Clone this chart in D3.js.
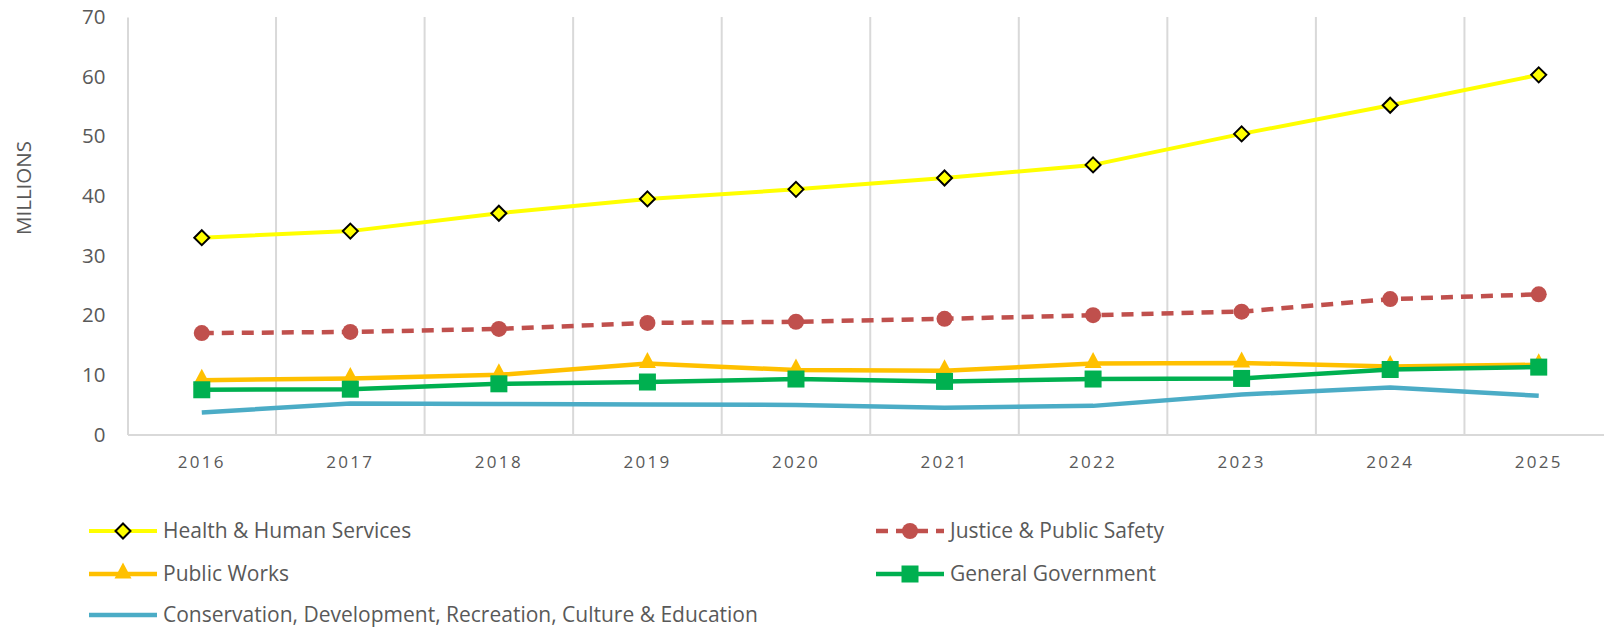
<!DOCTYPE html>
<html>
<head>
<meta charset="utf-8">
<script src="https://cdn.jsdelivr.net/npm/d3@7"></script>
<style>
  html, body { margin: 0; padding: 0; background: #fff; }
  svg { display: block; }
  text { font-family: "Open Sans", "Liberation Sans", sans-serif; fill: #595959; }
</style>
</head>
<body>
<svg id="chart" width="1604" height="629"></svg>
<script>
// Budget by function, millions
const years = ["2016","2017","2018","2019","2020","2021","2022","2023","2024","2025"];
const yTicks = [0, 10, 20, 30, 40, 50, 60, 70];

const healthHumanServices = [33.0, 34.1, 37.1, 39.5, 41.1, 43.0, 45.2, 50.4, 55.2, 60.3];
const justicePublicSafety = [17.0, 17.2, 17.7, 18.7, 18.9, 19.4, 20.0, 20.6, 22.7, 23.5];
const publicWorks         = [9.1, 9.4, 10.0, 11.9, 10.8, 10.7, 11.9, 12.0, 11.4, 11.7];
const generalGovernment   = [7.5, 7.6, 8.5, 8.8, 9.3, 8.9, 9.3, 9.4, 10.9, 11.3];
const conservationEtc     = [3.7, 5.2, 5.1, 5.05, 4.95, 4.5, 4.8, 6.7, 7.9, 6.5];

const seriesNames = [
  "Health & Human Services",
  "Justice & Public Safety",
  "Public Works",
  "General Government",
  "Conservation, Development, Recreation, Culture & Education"
];

const series = [
  { name: seriesNames[0], values: healthHumanServices, color: "#FFFF00", width: 4, dash: null, marker: "diamond" },
  { name: seriesNames[1], values: justicePublicSafety, color: "#C0504D", width: 4.5, dash: "12,8", marker: "circle" },
  { name: seriesNames[2], values: publicWorks, color: "#FFC000", width: 4.5, dash: null, marker: "triangle" },
  { name: seriesNames[3], values: generalGovernment, color: "#00B050", width: 4.5, dash: null, marker: "square" },
  { name: seriesNames[4], values: conservationEtc, color: "#4BACC6", width: 4.5, dash: null, marker: null }
];

const svg = d3.select("#chart");
const plotLeft = 127.5, plotTop = 17, plotBottom = 434.5, plotRight = 1613;

const x = d3.scaleBand().domain(years).range([plotLeft, plotRight]).padding(0);
const y = d3.scaleLinear().domain([0, 70]).range([plotBottom, plotTop]);
const cx = d => x(d) + x.bandwidth() / 2;

// vertical gridlines at category boundaries
svg.append("g").selectAll("line")
  .data(years.slice(1))
  .join("line")
  .attr("x1", d => x(d)).attr("x2", d => x(d))
  .attr("y1", plotTop).attr("y2", plotBottom)
  .attr("stroke", "#D9D9D9").attr("stroke-width", 2);

// y axis
const yAxis = svg.append("g")
  .attr("transform", `translate(${plotLeft},0)`)
  .call(d3.axisLeft(y).tickValues(yTicks).tickSize(0).tickPadding(22));
yAxis.select(".domain").attr("stroke", "#D9D9D9").attr("stroke-width", 2);
yAxis.selectAll("text").style("font-size", "20.5px").attr("fill", "#595959");

// x axis
const xAxis = svg.append("g")
  .attr("transform", `translate(0,${plotBottom})`)
  .call(d3.axisBottom(x).tickSize(0).tickPadding(21));
xAxis.select(".domain").attr("stroke", "#D9D9D9").attr("stroke-width", 2);
xAxis.selectAll("text").style("font-size", "17px").style("letter-spacing", "2.3px").attr("fill", "#595959");

// y title
svg.append("text")
  .attr("transform", "translate(31,188) rotate(-90)")
  .attr("text-anchor", "middle")
  .style("font-size", "20.5px")
  .text("MILLIONS");

const line = d3.line().x((v, i) => cx(years[i])).y(v => y(v));

function drawMarker(g, type, color, px, py) {
  if (type === "diamond") {
    const s = 7.5;
    g.append("path")
      .attr("d", `M${px},${py - s}L${px + s},${py}L${px},${py + s}L${px - s},${py}Z`)
      .attr("fill", "#FFFF00").attr("stroke", "#000").attr("stroke-width", 2);
  } else if (type === "circle") {
    g.append("circle").attr("cx", px).attr("cy", py).attr("r", 8).attr("fill", color);
  } else if (type === "triangle") {
    const s = 8.5;
    g.append("path")
      .attr("d", `M${px},${py - s - 3}L${px + s},${py + s - 4}L${px - s},${py + s - 4}Z`)
      .attr("fill", color);
  } else if (type === "square") {
    const s = 8.5;
    g.append("rect").attr("x", px - s).attr("y", py - s).attr("width", 2 * s).attr("height", 2 * s).attr("fill", color);
  }
}

series.forEach(s => {
  const g = svg.append("g");
  g.append("path")
    .attr("d", line(s.values))
    .attr("fill", "none")
    .attr("stroke", s.color)
    .attr("stroke-width", s.width)
    .attr("stroke-dasharray", s.dash)
    .attr("stroke-linejoin", "round");
  if (s.marker) {
    s.values.forEach((v, i) => drawMarker(g, s.marker, s.color, cx(years[i]), y(v)));
  }
});

// legend
const legendPos = [
  { lx: 89, ly: 531 }, { lx: 876, ly: 531 },
  { lx: 89, ly: 574 }, { lx: 876, ly: 574 },
  { lx: 89, ly: 615 }
];
series.forEach((s, i) => {
  const p = legendPos[i];
  const g = svg.append("g");
  const len = 68;
  g.append("line")
    .attr("x1", p.lx).attr("x2", p.lx + len)
    .attr("y1", p.ly).attr("y2", p.ly)
    .attr("stroke", s.color).attr("stroke-width", s.width)
    .attr("stroke-dasharray", s.dash);
  if (s.marker) drawMarker(g, s.marker, s.color, p.lx + len / 2, p.ly);
  g.append("text")
    .attr("x", p.lx + len + 6).attr("y", p.ly)
    .attr("dy", "0.35em")
    .style("font-size", "21px")
    .text(s.name);
});
</script>
</body>
</html>
